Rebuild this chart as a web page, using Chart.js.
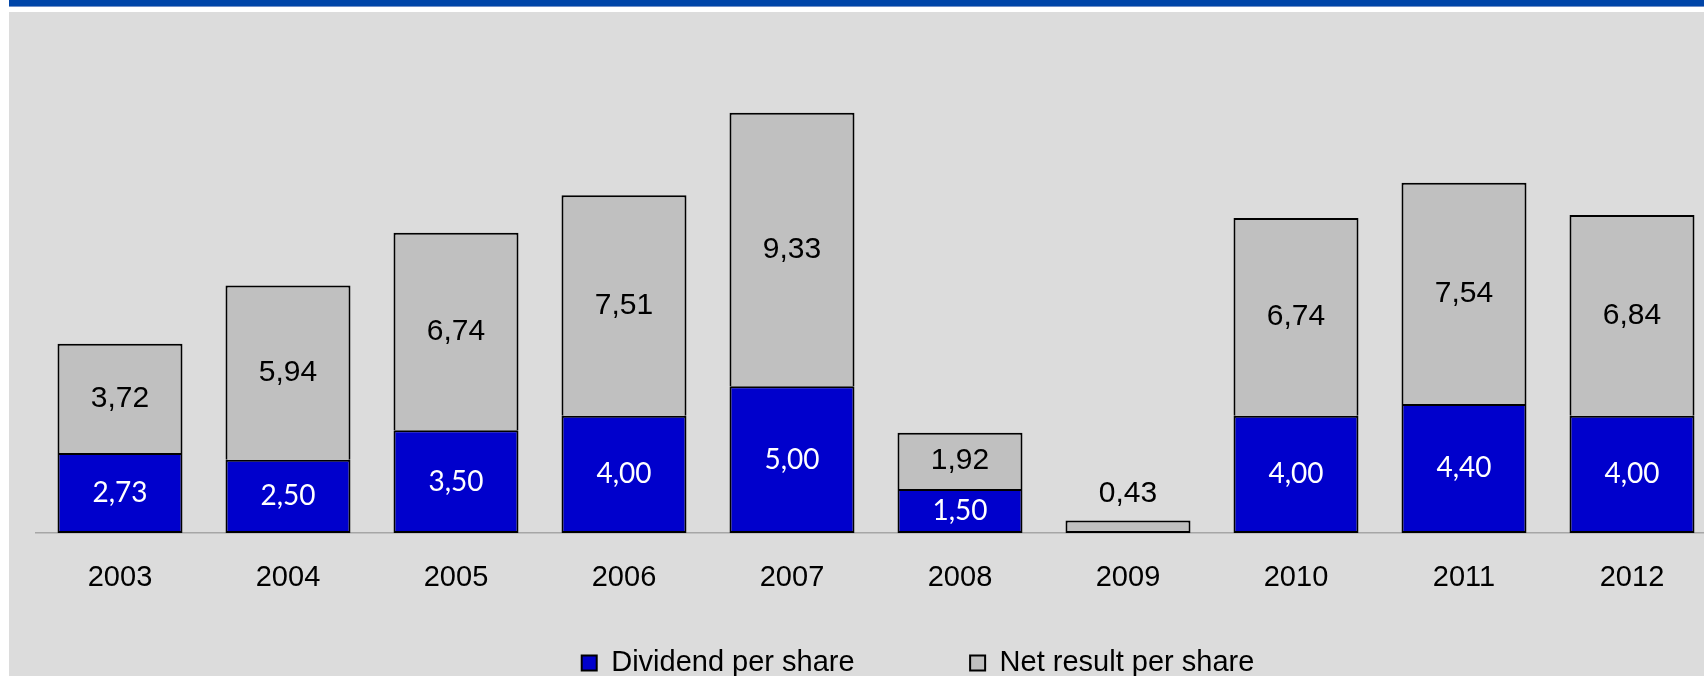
<!DOCTYPE html>
<html>
<head>
<meta charset="utf-8">
<script src="https://cdn.jsdelivr.net/npm/chart.js@4.4.1/dist/chart.umd.min.js"></script>
<style>
  html, body { margin: 0; padding: 0; background: #fff; width: 1704px; height: 676px; overflow: hidden; }
  .band { position: absolute; left: 9px; top: 0; width: 1695px; height: 6px; background: #0045a8; border-bottom: 1px solid #6f8fc8; }
  .panel { position: absolute; left: 9px; top: 12px; right: 0; bottom: 0; background: #dcdcdc; }
  #chart { position: absolute; left: 0; top: 0; }
</style>
</head>
<body>
<div class="band"></div>
<div class="panel"></div>
<canvas id="chart" width="1800" height="700"></canvas>
<script>
const years = ['2003', '2004', '2005', '2006', '2007', '2008', '2009', '2010', '2011', '2012'];
const dividend = [2.73, 2.50, 3.50, 4.00, 5.00, 1.50, null, 4.00, 4.40, 4.00];
const netResult = [3.72, 5.94, 6.74, 7.51, 9.33, 1.92, 0.43, 6.74, 7.54, 6.84];

const fmt = (v) => v.toFixed(2).replace('.', ',');

// value labels in the middle of each segment (above it when too thin)
const segmentLabels = {
  id: 'segmentLabels',
  afterDatasetsDraw(chart) {
    const ctx = chart.ctx;
    chart.data.datasets.forEach((ds, di) => {
      const meta = chart.getDatasetMeta(di);
      meta.data.forEach((bar, i) => {
        const v = ds.data[i];
        if (v === null || v === undefined) return;
        const h = Math.abs(bar.base - bar.y);
        let y = (bar.y + bar.base) / 2;
        if (h < 30) y = bar.y - 27;
        ctx.save();
        ctx.font = ds.labelFont;
        ctx.fillStyle = h < 30 ? '#000' : ds.labelColor;
        ctx.textAlign = 'center';
        ctx.textBaseline = 'middle';
        ctx.fillText(fmt(v), bar.x, y);
        ctx.restore();
      });
    });
  }
};

new Chart(document.getElementById('chart'), {
  type: 'bar',
  data: {
    labels: years,
    datasets: [
      {
        label: 'Dividend per share',
        data: dividend,
        backgroundColor: '#0000cc',
        borderColor: '#000',
        borderWidth: 2,
        borderSkipped: false,
        labelFont: '28px Lato, "Open Sans", sans-serif',
        labelColor: '#fff',
      },
      {
        label: 'Net result per share',
        data: netResult,
        backgroundColor: '#c0c0c0',
        borderColor: '#000',
        borderWidth: 2,
        borderSkipped: (c) => (dividend[c.dataIndex] ? 'bottom' : false),
        labelFont: '30px "Liberation Sans", Arial, sans-serif',
        labelColor: '#000',
      },
    ],
  },
  options: {
    responsive: false,
    animation: false,
    devicePixelRatio: 1,
    layout: { padding: { left: 36, top: 93, right: 0, bottom: 12.5 } },
    datasets: { bar: { barPercentage: 0.744, categoryPercentage: 1 } },
    scales: {
      x: {
        stacked: true,
        grid: { display: false, drawTicks: false },
        border: { display: true, color: '#a6a6a6', width: 1.5 },
        ticks: {
          color: '#000',
          mirror: true,
          padding: -62.5,
          font: { family: '"Liberation Sans", Arial, sans-serif', size: 29 },
        },
        // the legend sits lower than the axis labels, so the axis takes no room
        afterFit: (scale) => { scale.height = 0; },
      },
      y: {
        stacked: true,
        position: 'right',
        min: 0,
        max: 15,
        grid: { display: false },
        border: { display: false },
        ticks: { display: false },
        afterFit: (scale) => { scale.width = 84; },
      },
    },
    plugins: {
      tooltip: { enabled: false },
      legend: {
        position: 'bottom',
        labels: {
          color: '#000',
          boxWidth: 15,
          boxHeight: 15,
          padding: 115.5,
          font: { family: '"Liberation Sans", Arial, sans-serif', size: 29 },
        },
      },
    },
  },
  plugins: [segmentLabels],
});
</script>
</body>
</html>
